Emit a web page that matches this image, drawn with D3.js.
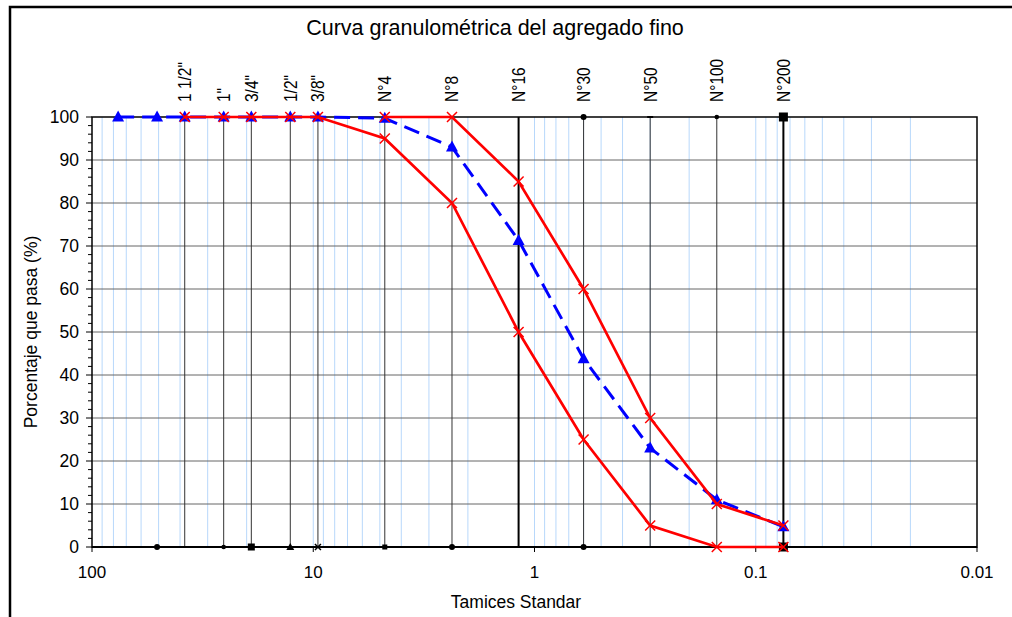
<!DOCTYPE html>
<html>
<head>
<meta charset="utf-8">
<script src="https://cdn.jsdelivr.net/npm/d3@7"></script>
<style>
  body { margin: 0; background: #fff; }
  svg { display: block; font-family: "Liberation Sans", Arial, sans-serif; }
</style>
</head>
<body>
<svg id="chart" width="1012" height="617"></svg>
<script>
// ---- data ----
const sieveNames   = ['1 1/2"', '1"', '3/4"', '1/2"', '3/8"', 'N°4', 'N°8', 'N°16', 'N°30', 'N°50', 'N°100', 'N°200'];
const sieveOpenings = [38.1, 25.4, 19.05, 12.7, 9.525, 4.75, 2.36, 1.18, 0.6, 0.3, 0.15, 0.075];
const bottomMarkers = ['dash', 'circleS', 'square', 'triangle', 'xS', 'squareS', 'circle', 'none', 'circle', 'dash', 'none', 'squareB'];
const topMarkers    = ['none', 'none', 'none', 'none', 'none', 'none', 'none', 'none', 'circle', 'dash', 'circleS', 'squareB'];

const sampleOpenings = [76.2, 50.8, 38.1, 25.4, 19.05, 12.7, 9.525, 4.75, 2.36, 1.18, 0.6, 0.3, 0.15, 0.075];
const samplePassing  = [100, 100, 100, 100, 100, 100, 100, 99.7, 93, 71.3, 43.8, 23, 11, 4.7];

const lowerOpenings = [38.1, 25.4, 19.05, 12.7, 9.525, 4.75, 2.36, 1.18, 0.6, 0.3, 0.15, 0.075];
const lowerPassing  = [100, 100, 100, 100, 100, 95, 80, 50, 25, 5, 0, 0];
const upperOpenings = [4.75, 2.36, 1.18, 0.6, 0.3, 0.15, 0.075];
const upperPassing  = [100, 100, 85, 60, 30, 10, 5];

const xTickValues = [100, 10, 1, 0.1, 0.01];
const xTickLabels = ['100', '10', '1', '0.1', '0.01'];
const yTickValues = [0, 10, 20, 30, 40, 50, 60, 70, 80, 90, 100];

// ---- layout ----
const svg = d3.select('#chart');
const L = 92, R = 977, T = 117, B = 547;
const x = d3.scaleLog().domain([100, 0.01]).range([L, R]);
const y = d3.scaleLinear().domain([0, 100]).range([B, T]);

// outer frame
svg.append('path').attr('d', `M10,617 L10,7 L1012,7`).attr('fill', 'none')
  .attr('stroke', '#000').attr('stroke-width', 2.5);

// title
svg.append('text').attr('x', 495).attr('y', 35).attr('text-anchor', 'middle')
  .attr('font-size', 21.5).attr('fill', '#000').text('Curva granulométrica del agregado fino');

// light blue log gridlines
const minor = [];
for (let e = -2; e <= 1; e++) for (let k = 1; k <= 9; k++) minor.push(k * Math.pow(10, e));
svg.append('g').selectAll('line').data(minor.filter(v => v > 0.01 && v < 100)).join('line')
  .attr('x1', d => x(d)).attr('x2', d => x(d)).attr('y1', T).attr('y2', B)
  .attr('stroke', '#b8d8fb').attr('stroke-width', 1);

// horizontal gridlines
svg.append('g').selectAll('line').data(yTickValues.filter(v => v > 0 && v < 100)).join('line')
  .attr('x1', L).attr('x2', R).attr('y1', d => y(d)).attr('y2', d => y(d))
  .attr('stroke', '#666').attr('stroke-width', 1);

// sieve vertical lines
const sieves = sieveNames.map((n, i) => ({ name: n, d: sieveOpenings[i], bm: bottomMarkers[i], tm: topMarkers[i] }));
svg.append('g').selectAll('line').data(sieves).join('line')
  .attr('x1', d => x(d.d)).attr('x2', d => x(d.d)).attr('y1', y(0)).attr('y2', y(100))
  .attr('stroke', d => (d.name === 'N°16' || d.name === 'N°200') ? '#000' : '#333')
  .attr('stroke-width', d => (d.name === 'N°16' || d.name === 'N°200') ? 2 : 1);

// plot border
svg.append('rect').attr('x', L).attr('y', T).attr('width', R - L).attr('height', B - T)
  .attr('fill', 'none').attr('stroke', '#000').attr('stroke-width', 1.5);
svg.append('line').attr('x1', L).attr('x2', R).attr('y1', B).attr('y2', B)
  .attr('stroke', '#000').attr('stroke-width', 2);

// sieve labels
svg.append('g').selectAll('text').data(sieves).join('text')
  .attr('transform', d => `translate(${x(d.d) + 6.5},102) rotate(-90) scale(1,1.2)`)
  .attr('font-size', 15.5).attr('fill', '#000').text(d => d.name);

// black markers on sieve lines
function drawMarker(g, type, cx, cy) {
  if (type === 'none') return;
  if (type === 'circle') g.append('circle').attr('cx', cx).attr('cy', cy).attr('r', 3).attr('fill', '#000');
  if (type === 'circleS') g.append('circle').attr('cx', cx).attr('cy', cy).attr('r', 2.3).attr('fill', '#000');
  if (type === 'dash') g.append('rect').attr('x', cx - 3).attr('y', cy - 1).attr('width', 6).attr('height', 2).attr('fill', '#000');
  if (type === 'square') g.append('rect').attr('x', cx - 3.5).attr('y', cy - 3.5).attr('width', 7).attr('height', 7).attr('fill', '#000');
  if (type === 'squareS') g.append('rect').attr('x', cx - 2.5).attr('y', cy - 2.5).attr('width', 5).attr('height', 5).attr('fill', '#000');
  if (type === 'squareB') g.append('rect').attr('x', cx - 4.5).attr('y', cy - 4.5).attr('width', 9).attr('height', 9).attr('fill', '#000');
  if (type === 'triangle') g.append('path').attr('d', `M${cx},${cy - 4} L${cx + 4},${cy + 3} L${cx - 4},${cy + 3}Z`).attr('fill', '#000');
  if (type === 'xS') g.append('path').attr('d', `M${cx - 3},${cy - 3} L${cx + 3},${cy + 3} M${cx - 3},${cy + 3} L${cx + 3},${cy - 3}`).attr('stroke', '#000').attr('stroke-width', 1.5);
}
const mg = svg.append('g');
sieves.forEach(s => { drawMarker(mg, s.bm, x(s.d), y(0)); drawMarker(mg, s.tm, x(s.d), y(100)); });
drawMarker(mg, 'circle', x(50.8), y(0));

// y axis ticks
const yMinor = d3.range(0, 101, 2);
svg.append('g').selectAll('line').data(yMinor).join('line')
  .attr('x1', d => d % 10 === 0 ? L - 6 : L - 4).attr('x2', L)
  .attr('y1', d => y(d)).attr('y2', d => y(d)).attr('stroke', '#000').attr('stroke-width', 1);
svg.append('g').selectAll('text').data(yTickValues).join('text')
  .attr('x', L - 13).attr('y', d => y(d) + 6).attr('text-anchor', 'end')
  .attr('font-size', 17.5).attr('fill', '#000').text(d => d);

// x axis ticks
svg.append('g').selectAll('line').data(xTickValues).join('line')
  .attr('x1', d => x(d)).attr('x2', d => x(d)).attr('y1', B).attr('y2', B + 5)
  .attr('stroke', '#000').attr('stroke-width', 1);
svg.append('g').selectAll('text').data(xTickValues).join('text')
  .attr('x', d => x(d)).attr('y', 578).attr('text-anchor', 'middle')
  .attr('font-size', 17).attr('fill', '#000').text((d, i) => xTickLabels[i]);

// axis titles
svg.append('text').attr('x', 516).attr('y', 608).attr('text-anchor', 'middle')
  .attr('font-size', 17.5).attr('fill', '#000').text('Tamices Standar');
svg.append('text').attr('transform', `translate(37,332) rotate(-90)`).attr('text-anchor', 'middle')
  .attr('font-size', 17.5).attr('fill', '#000').text('Porcentaje que pasa (%)');

// series
const line = d3.line().x(d => x(d[0])).y(d => y(d[1]));
const sample = sampleOpenings.map((d, i) => [d, samplePassing[i]]);
const lower = lowerOpenings.map((d, i) => [d, lowerPassing[i]]);
const upper = upperOpenings.map((d, i) => [d, upperPassing[i]]);

svg.append('path').datum(sample).attr('d', line).attr('fill', 'none')
  .attr('stroke', '#0000ff').attr('stroke-width', 3).attr('stroke-dasharray', '16,8');
svg.append('g').selectAll('path').data(sample).join('path')
  .attr('d', d => { const cx = x(d[0]), cy = y(d[1]); return `M${cx},${cy - 6.5} L${cx + 6},${cy + 4.5} L${cx - 6},${cy + 4.5}Z`; })
  .attr('fill', '#0000ff');

[lower, upper].forEach(s => {
  svg.append('path').datum(s).attr('d', line).attr('fill', 'none')
    .attr('stroke', '#ff0000').attr('stroke-width', 2.7);
  svg.append('g').selectAll('path').data(s).join('path')
    .attr('d', d => { const cx = x(d[0]), cy = y(d[1]); return `M${cx - 5},${cy - 5} L${cx + 5},${cy + 5} M${cx - 5},${cy + 5} L${cx + 5},${cy - 5}`; })
    .attr('stroke', '#ff0000').attr('stroke-width', 1.5).attr('fill', 'none');
});
</script>
</body>
</html>
